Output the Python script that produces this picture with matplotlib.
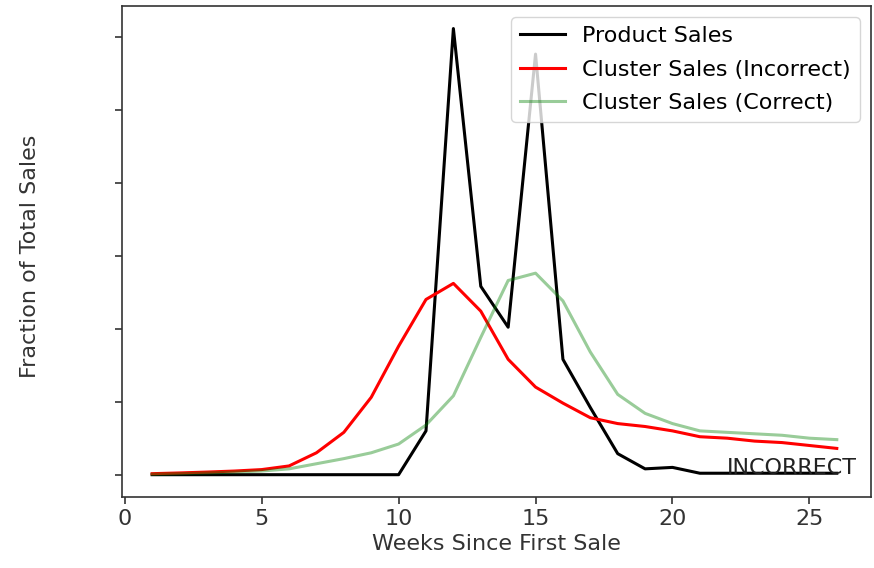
import numpy as np
import matplotlib
matplotlib.use("Agg")
import matplotlib.pyplot as plt

weeks = list(range(1, 27))
product_sales = [0, 0, 0, 0, 0, 0, 0, 0, 0, 0,
                 0.030, 0.3055, 0.129, 0.101, 0.288, 0.079, 0.046, 0.0144,
                 0.004, 0.005, 0.001, 0.001, 0.001, 0.001, 0.001, 0.001]
cluster_incorrect = [0.0007, 0.0012, 0.0018, 0.0025, 0.0035, 0.006, 0.015, 0.029,
                     0.053, 0.088, 0.120, 0.131, 0.112, 0.079, 0.060, 0.049,
                     0.039, 0.035, 0.033, 0.030, 0.026, 0.025, 0.023, 0.022,
                     0.020, 0.018]
cluster_correct = [0.0003, 0.0007, 0.0012, 0.0018, 0.0025, 0.004, 0.0075, 0.011,
                   0.015, 0.021, 0.034, 0.054, 0.094, 0.133, 0.138, 0.119,
                   0.084, 0.055, 0.042, 0.035, 0.030, 0.029, 0.028, 0.027,
                   0.025, 0.024]
x_ticks = [0, 5, 10, 15, 20, 25]
y_ticks = [0, 0.05, 0.10, 0.15, 0.20, 0.25, 0.30]

fs = 16
fig = plt.figure(figsize=(8.74, 5.68), dpi=100)
ax = fig.add_axes([0.1396, 0.125, 0.857, 0.864])

ax.plot(weeks, product_sales, color="black", lw=2.2, label="Product Sales")
ax.plot(weeks, cluster_incorrect, color="red", lw=2.2, label="Cluster Sales (Incorrect)")
ax.plot(weeks, cluster_correct, color="green", alpha=0.4, lw=2.2, label="Cluster Sales (Correct)")

ax.text(22, -0.002, "INCORRECT", fontsize=16, va="bottom", ha="left", color="#222222")

ax.set_xlim(-0.1, 27.25)
ax.set_xticks(x_ticks)
ax.set_yticks(y_ticks)
ax.set_yticklabels([])
ax.tick_params(labelsize=fs, length=5, width=1.2, colors="#333333")
for s in ax.spines.values():
    s.set_linewidth(1.2)
    s.set_color("#333333")

ax.set_xlabel("Weeks Since First Sale", fontsize=fs, color="#333333")
ax.set_ylabel("Fraction of Total Sales", fontsize=fs, color="#333333")
ax.yaxis.set_label_coords(-0.11, 0.49)
ax.legend(loc="upper right", fontsize=fs, labelspacing=0.6)

fig.savefig("out.png", dpi=100)
